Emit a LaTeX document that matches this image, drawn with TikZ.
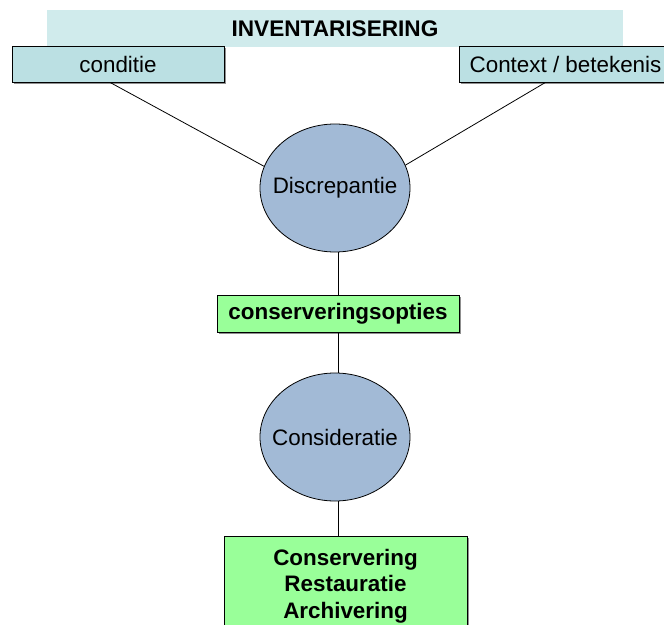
\documentclass[tikz,border=0pt]{standalone}
\usepackage{fontspec}
\setmainfont{Liberation Sans}
\usetikzlibrary{shapes.geometric,shadows,calc}
\definecolor{bannerc}{RGB}{208,235,236}
\definecolor{tealbox}{RGB}{187,224,227}
\definecolor{greenbox}{RGB}{153,255,153}
\definecolor{ellc}{RGB}{162,186,214}
\begin{document}
\begin{tikzpicture}[x=1pt,y=-1pt,
  txt/.style={font=\fontsize{22.4}{26.5}\selectfont},
  boxbase/.style={draw=black, line width=0.8pt, inner sep=0pt, txt,
    drop shadow={shadow xshift=1.6pt, shadow yshift=-1.6pt, fill=black!55, opacity=0.8}},
  tealnode/.style={boxbase, fill=tealbox, minimum width=212pt, minimum height=36pt},
  greennode/.style={boxbase, fill=greenbox, font=\fontsize{22.4}{26.5}\selectfont\bfseries},
  ellnode/.style={ellipse, draw=black, line width=0.8pt, fill=ellc, inner sep=0pt,
    minimum width=150pt, minimum height=128pt},
  elltext/.style={label={[txt]center:#1}},
  conn/.style={line width=0.8pt, draw=black}
]
\useasboundingbox (0,0) rectangle (664,624);
\node[fill=bannerc, minimum width=576pt, minimum height=37pt, inner sep=0pt,
      font=\fontsize{22.6}{26.5}\selectfont\bfseries] (banner) at (335,28.5) {INVENTARISERING};
\node[tealnode] (cond) at (118,64) {\raisebox{-2pt}{conditie}};
\node[tealnode, minimum width=213pt] (ctx) at (565.5,64) {\raisebox{-2pt}{Context / betekenis}};
\node[ellnode, elltext=Discrepantie] (disc) at (335,188) {};
\node[greennode, minimum width=242pt, minimum height=37pt] (opt) at (338,313.5) {\raisebox{-1pt}{conserveringsopties}};
\node[ellnode, elltext=Consideratie] (cons) at (335,437) {};
\node[greennode, minimum width=243pt, minimum height=100pt, align=center] (res) at (345.5,586)
  {Conservering\\Restauratie\\Archivering};
\draw[conn] ($(cond.south)+(-8,0)$) -- (disc.163);
\draw[conn] ($(ctx.south)+(-20,0)$) -- (disc.18);
\draw[conn] (opt.north |- disc.south) -- (opt.north);
\draw[conn] (opt.south) -- (opt.south |- cons.north);
\draw[conn] (opt.south |- cons.south) -- (opt.south |- res.north);
\end{tikzpicture}
\end{document}
